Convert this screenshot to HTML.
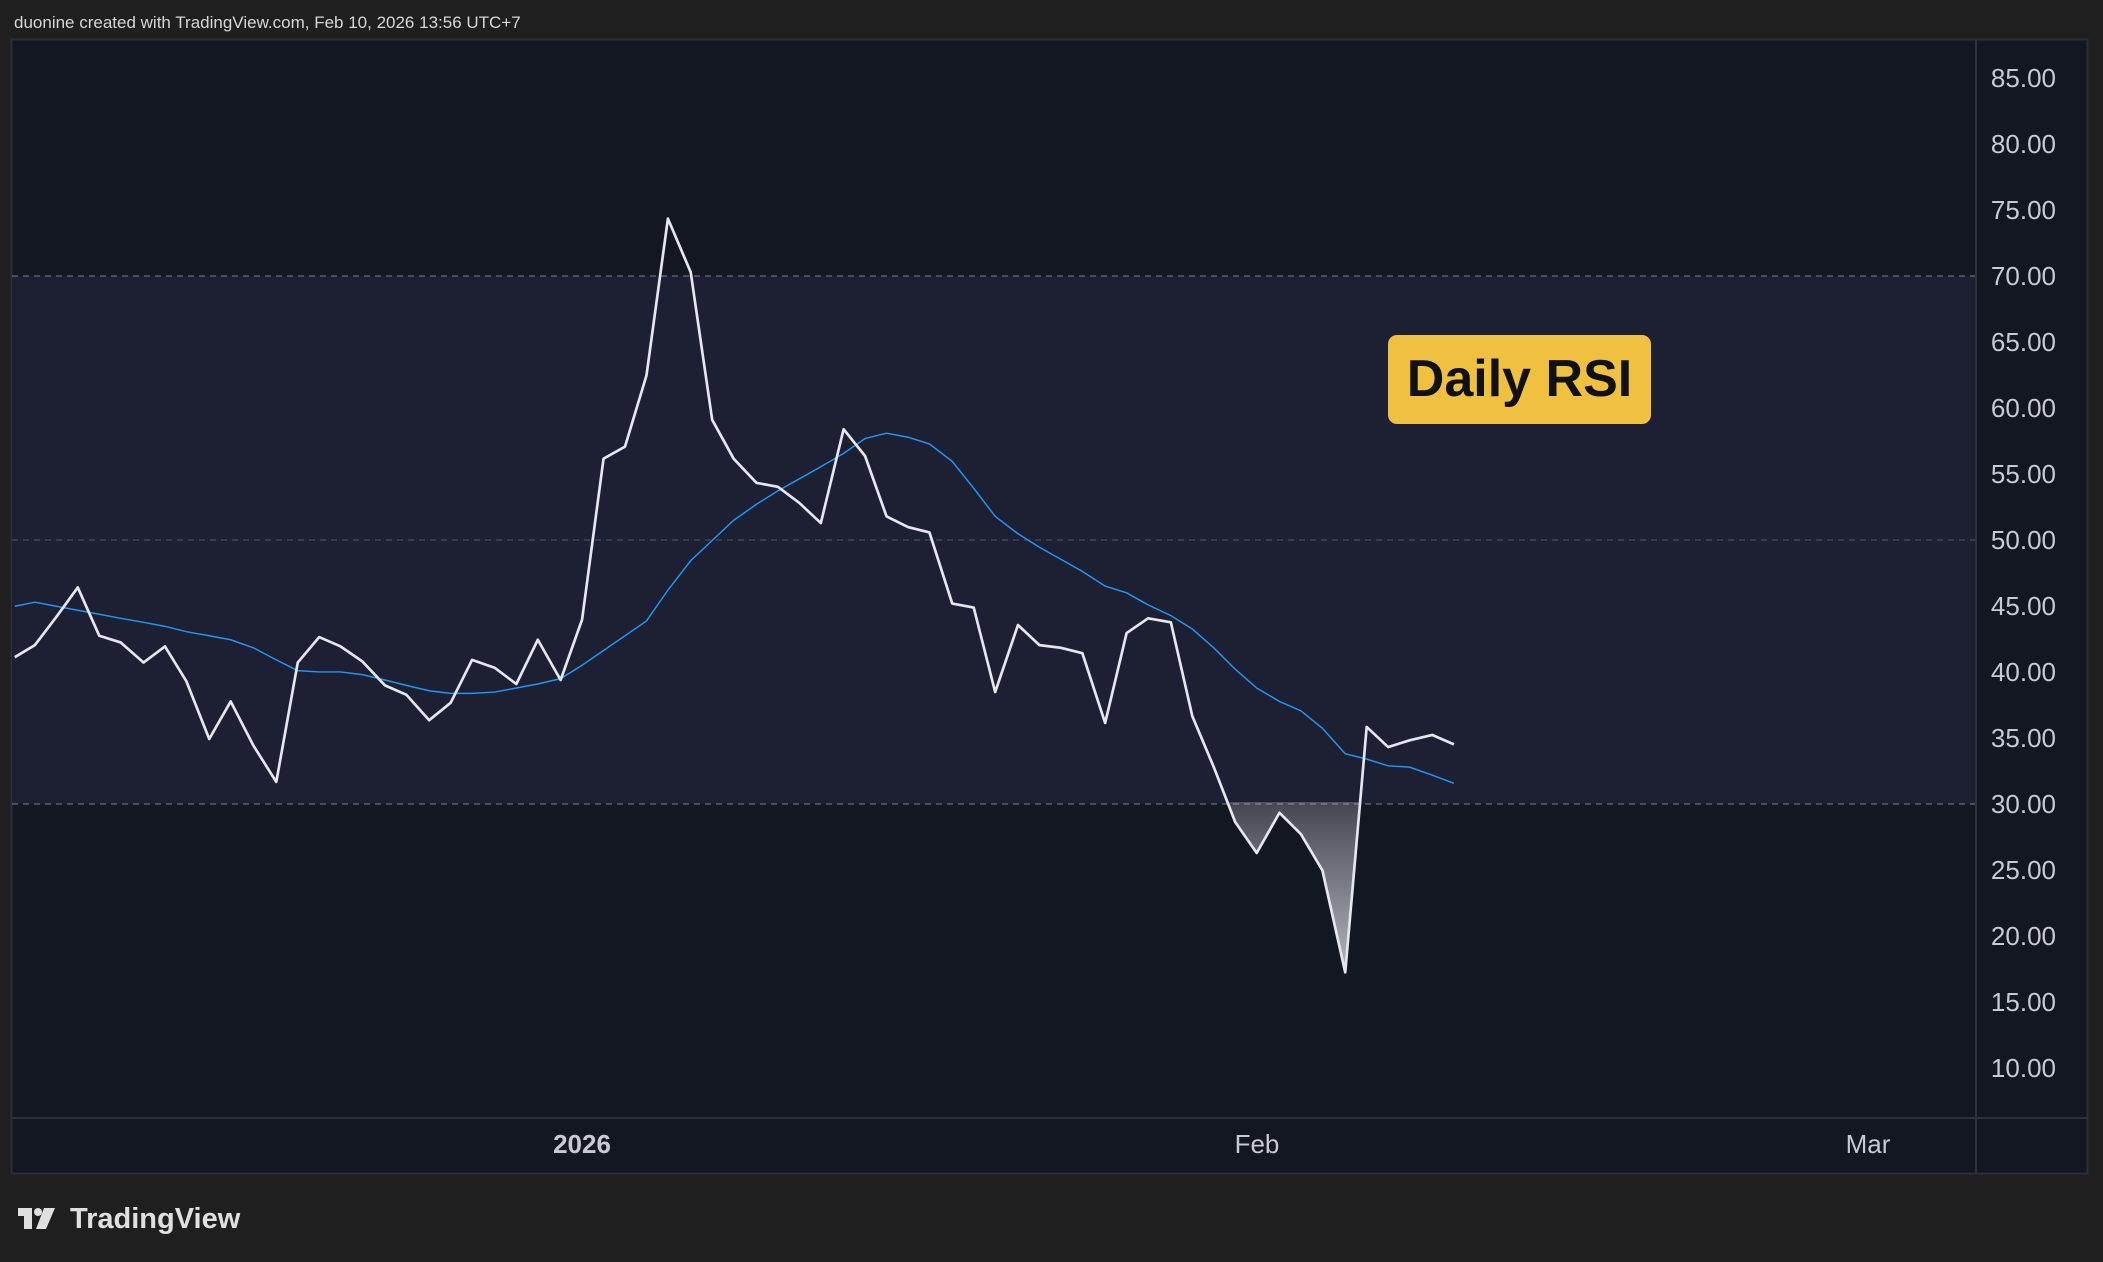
<!DOCTYPE html>
<html><head><meta charset="utf-8"><style>
html,body{margin:0;padding:0;background:#1f1f1f;width:2103px;height:1262px;overflow:hidden}
svg{display:block}
text{font-family:"Liberation Sans","DejaVu Sans",sans-serif}
</style></head><body>
<svg width="2103" height="1262" viewBox="0 0 2103 1262" xmlns="http://www.w3.org/2000/svg">
<defs>
<linearGradient id="g" x1="0" y1="0" x2="0" y2="1">
<stop offset="0" stop-color="#d0d0d8" stop-opacity="0"/>
<stop offset="1" stop-color="#d0d0d8" stop-opacity="0.85"/>
</linearGradient>
<clipPath id="below"><rect x="0" y="598" width="1568" height="200"/></clipPath>
</defs>
<rect width="2103" height="1262" fill="#1f1f1f"/>
<text x="14" y="28" font-size="17" fill="#d6d6d6">duonine created with TradingView.com, Feb 10, 2026 13:56 UTC+7</text>
<rect x="11.5" y="39.5" width="2076" height="1134" fill="#131722" stroke="#2e2e33" stroke-width="2"/>
<rect x="12" y="276" width="1964" height="528" fill="#1d1f33"/>
<line x1="12" y1="276" x2="1976" y2="276" stroke="#6a6d7a" stroke-width="1.3" stroke-dasharray="6,5"/>
<line x1="12" y1="540" x2="1976" y2="540" stroke="#4a4d5c" stroke-width="1.3" stroke-dasharray="6,5"/>
<line x1="12" y1="804" x2="1976" y2="804" stroke="#6a6d7a" stroke-width="1.3" stroke-dasharray="6,5"/>
<line x1="1976" y1="40" x2="1976" y2="1173" stroke="#2e3038" stroke-width="2"/>
<line x1="12" y1="1118" x2="2087" y2="1118" stroke="#2e3038" stroke-width="2"/>
<g font-size="26" fill="#c8cad2" text-anchor="end">
<text x="2056" y="87">85.00</text><text x="2056" y="153">80.00</text><text x="2056" y="219">75.00</text>
<text x="2056" y="285">70.00</text><text x="2056" y="351">65.00</text><text x="2056" y="417">60.00</text>
<text x="2056" y="483">55.00</text><text x="2056" y="549">50.00</text><text x="2056" y="615">45.00</text>
<text x="2056" y="681">40.00</text><text x="2056" y="747">35.00</text><text x="2056" y="813">30.00</text>
<text x="2056" y="879">25.00</text><text x="2056" y="945">20.00</text><text x="2056" y="1011">15.00</text>
<text x="2056" y="1077">10.00</text>
</g>
<g font-size="26" fill="#c8cad2" text-anchor="middle">
<text x="582" y="1153" font-weight="bold">2026</text>
<text x="1257" y="1153">Feb</text>
<text x="1868" y="1153">Mar</text>
</g>
<g transform="scale(1.3412)">
<polygon clip-path="url(#below)" fill="url(#g)" points="905,572 921,613 937,636 954,606 970,622 986,649 1003,725 1019,542 1019,598 905,598"/>
<polyline fill="none" stroke="#2196f3" stroke-width="1.1" points="11,452 26,449 42,452 58,455 74,458 90,461 107,464 123,467 139,471 156,474 172,477 189,483 206,492 222,500 238,501 254,501 270,503 287,507 303,511 320,515 336,517 352,517 369,516 385,513 401,510 418,506 434,496 450,485 466,474 482,463 498,440 515,418 531,403 547,388 564,376 580,366 596,357 612,348 629,338 645,327 661,323 677,326 693,331 710,344 726,364 742,385 759,398 775,408 791,417 807,426 824,437 840,442 856,451 873,459 889,469 905,483 921,499 937,513 954,523 970,530 986,543 1003,562 1019,566 1035,571 1051,572 1068,578 1084,584"/>
<polyline fill="none" stroke="#e6e6ee" stroke-width="2" stroke-linejoin="round" points="11,490 26,481 42,460 58,438 74,474 90,479 107,494 123,482 139,508 156,551 172,523 189,556 206,583 222,494 238,475 254,482 270,493 287,511 303,518 320,537 336,524 352,492 369,498 385,510 401,477 418,507 434,462 450,342 466,333 482,280 498,163 515,203 531,313 547,342 564,360 580,363 596,375 612,390 629,320 645,340 661,385 677,393 693,397 710,450 726,453 742,516 759,466 775,481 791,483 807,487 824,539 840,472 856,461 873,464 889,534 905,572 921,613 937,636 954,606 970,622 986,649 1003,725 1019,542 1035,557 1051,552 1068,548 1084,555"/>
</g>
<rect x="1388" y="335" width="263" height="89" rx="9" fill="#f0c040"/>
<text x="1519.5" y="396" font-size="52" font-weight="bold" fill="#111" text-anchor="middle">Daily RSI</text>
<g fill="#e0e0e0">
<rect x="18" y="1208" width="14" height="8"/><rect x="24" y="1208" width="8" height="21"/>
<circle cx="38" cy="1212" r="4"/><polygon points="44,1208 55,1208 46,1229 36,1229"/>
</g>
<text x="70" y="1228" font-size="29" font-weight="bold" fill="#e0e0e0">TradingView</text>
</svg>
</body></html>
